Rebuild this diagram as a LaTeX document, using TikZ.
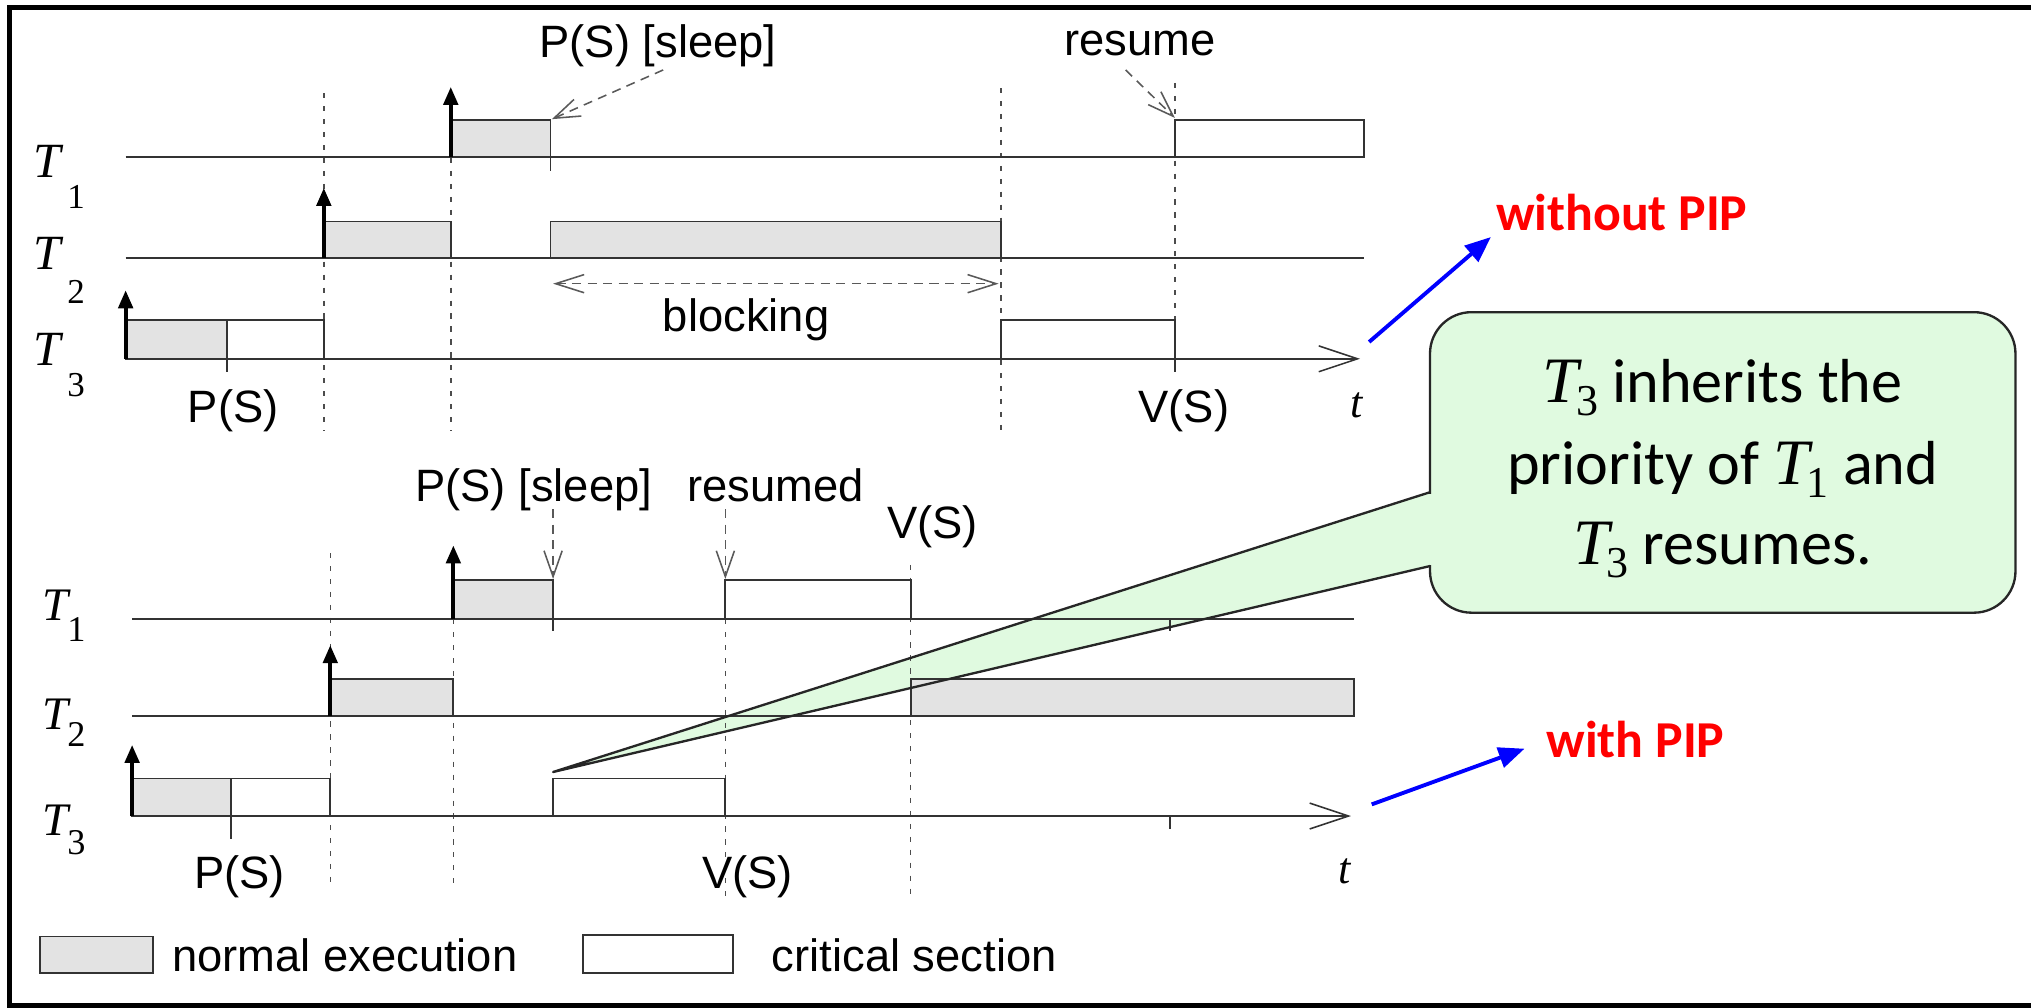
\documentclass[tikz,border=0pt]{standalone}
\usepackage{fontspec}
\setmainfont{Liberation Sans}
\newfontfamily\tfont{Liberation Serif}
\newfontfamily\cfont{Carlito}
\usetikzlibrary{arrows.meta}
\definecolor{callgreen}{RGB}{224,250,224}
% italic T with a lowered index digit: #1 T size, #2 digit size, #3 drop, #4 kern, #5 digit
\newcommand{\Tidx}[5]{{\tfont\itshape\fontsize{#1}{#1}\selectfont T}\kern#4\raisebox{-#3}{\tfont\fontsize{#2}{#2}\selectfont #5}}

\begin{document}
\begin{tikzpicture}[x=0.5pt,y=-0.5pt,
  every node/.style={inner sep=0pt, outer sep=0pt},
  lbl/.style={font=\fontsize{17.5}{20}\selectfont, anchor=base},
  tletter/.style={font=\tfont\itshape\fontsize{19}{20}\selectfont, anchor=base west},
  tdigit/.style={font=\tfont\fontsize{13.5}{15}\selectfont, anchor=base west},
  tvar/.style={font=\tfont\itshape\fontsize{17}{18}\selectfont, anchor=base},
  tline/.style={draw=black!80, line width=0.75pt},
  taxis/.style={tline, -{Straight Barb[length=15pt,width=10pt,line width=0.6pt]}},
  nbox/.style={draw=black!80, line width=0.75pt, fill=gray!22},
  cbox/.style={draw=black!80, line width=0.75pt, fill=white},
  dotv/.style={draw=black!70, line width=0.6pt, dash pattern=on 2pt off 3pt},
  rel/.style={line width=1.6pt, -{Triangle[length=7pt,width=5.5pt]}},
  note/.style={draw=black!65, line width=0.6pt, dash pattern=on 3.5pt off 2.5pt,
    -{Straight Barb[length=10pt,width=7pt,line width=0.6pt]}},
  twoway/.style={note, {Straight Barb[length=11pt,width=7pt,line width=0.6pt]}-{Straight Barb[length=11pt,width=7pt,line width=0.6pt]}},
  pip/.style={font=\cfont\bfseries\fontsize{20}{22}\selectfont, text=red, anchor=base west},
  bluearr/.style={draw=blue, line width=1.5pt, -{Triangle[length=10pt,width=8pt]}},
  calltext/.style={font=\cfont\fontsize{24}{28}\selectfont, anchor=base},
  legendtxt/.style={font=\fontsize{17.5}{20}\selectfont, anchor=base west}
]
\useasboundingbox (0,0) rectangle (1568,778);

% outer frame (open on the right)
\draw[line width=2pt] (1568,6) -- (7.5,6) -- (7.5,776) -- (1568,776);

% ---------------- without PIP ----------------
% dotted time markers
\draw[dotv] (250,72) -- (250,333);
\draw[dotv] (348,122) -- (348,333);
\draw[dotv] (773,68) -- (773,333);
\draw[dotv] (907,64) -- (907,247);

% task lines
\draw[tline] (97,121.5) -- (1053,121.5);
\draw[tline] (97,199) -- (1053,199);
\draw[taxis] (97,277) -- (1050,277);

% execution blocks
\draw[nbox] (348,93) rectangle (425,121.5);
\draw[cbox] (907,93) rectangle (1053,121.5);
\draw[nbox] (250,171) rectangle (348,199);
\draw[nbox] (425,171) rectangle (773,199);
\draw[nbox] (97,247) rectangle (175,277);
\draw[cbox] (175,247) rectangle (250,277);
\draw[cbox] (773,247) rectangle (907,277);

% ticks
\draw[tline] (425,121.5) -- (425,132);
\draw[tline] (175,277) -- (175,287);
\draw[tline] (907,277) -- (907,287);

% releases
\coordinate (ra3) at (97,277);   \coordinate (rb3) at (97,224);
\coordinate (ra2) at (250,199);  \coordinate (rb2) at (250,145);
\coordinate (ra1) at (348,121.5);\coordinate (rb1) at (348,67);
\draw[rel] (ra3) -- (rb3);
\draw[rel] (ra2) -- (rb2);
\draw[rel] (ra1) -- (rb1);

% task names
\node[tletter] (aT1) at (26,137) {T};  \node[tdigit] (aT1i) at (52,161) {1};
\node[tletter] (aT2) at (26,208) {T};  \node[tdigit] (aT2i) at (52,234) {2};
\node[tletter] (aT3) at (26,282) {T};  \node[tdigit] (aT3i) at (52,306) {3};

% annotations
\node[lbl] (asleep) at (508,44) {P(S) [sleep]};
\coordinate (asleepS) at (512,54);
\coordinate (asleepE) at (426,92);
\draw[note] (asleepS) -- (asleepE);
\node[lbl] (aresume) at (880,43) {resume};
\coordinate (aresumeS) at (869,54);
\coordinate (aresumeE) at (907,91);
\draw[note] (aresumeS) -- (aresumeE);
\coordinate (blkL) at (427,219);
\coordinate (blkR) at (771,219);
\draw[twoway] (blkL) -- (blkR);
\node[lbl] (ablk) at (576,256) {blocking};
\node[lbl] (aP) at (180,326) {P(S)};
\node[lbl] (aV) at (914,326) {V(S)};
\node[tvar] (at) at (1047,322) {t};

% ---------------- with PIP ----------------
% callout pointer fill (under the chart)
\coordinate (ptip) at (427,596);
\coordinate (pb1) at (1104,380);
\coordinate (pb2) at (1104,437);
\fill[callgreen] (ptip) -- (pb1) -- (pb2) -- cycle;

\draw[dotv] (255,427) -- (255,685);
\draw[dotv] (350,478) -- (350,687);
\draw[dotv] (560,478) -- (560,693);
\draw[dotv] (703,436) -- (703,693);

\draw[tline] (102,478) -- (1045,478);
\draw[tline] (102,553) -- (1045,553);
\draw[taxis] (102,630) -- (1043,630);

\draw[nbox] (350,448) rectangle (427,478);
\draw[cbox] (560,448) rectangle (703,478);
\draw[nbox] (255,524) rectangle (350,553);
\draw[nbox] (703,524) rectangle (1045,553);
\draw[nbox] (102,601) rectangle (178,630);
\draw[cbox] (178,601) rectangle (255,630);
\draw[cbox] (427,601) rectangle (560,630);

\draw[tline] (427,478) -- (427,487);
\draw[tline] (903,478) -- (903,487);
\draw[tline] (178,630) -- (178,648);
\draw[tline] (903,630) -- (903,640);

\coordinate (rc3) at (102,630);  \coordinate (rd3) at (102,575);
\coordinate (rc2) at (255,553);  \coordinate (rd2) at (255,498);
\coordinate (rc1) at (350,478);  \coordinate (rd1) at (350,421);
\draw[rel] (rc3) -- (rd3);
\draw[rel] (rc2) -- (rd2);
\draw[rel] (rc1) -- (rd1);

\node[tletter, font=\tfont\itshape\fontsize{18}{20}\selectfont] (bT1) at (33,479) {T};
\node[tdigit, font=\tfont\fontsize{14}{15}\selectfont] (bT1i) at (52,495) {1};
\node[tletter, font=\tfont\itshape\fontsize{18}{20}\selectfont] (bT2) at (33,563) {T};
\node[tdigit, font=\tfont\fontsize{14}{15}\selectfont] (bT2i) at (52,576) {2};
\node[tletter, font=\tfont\itshape\fontsize{18}{20}\selectfont] (bT3) at (33,645) {T};
\node[tdigit, font=\tfont\fontsize{14}{15}\selectfont] (bT3i) at (52,660) {3};

\node[lbl] (bsleep) at (412,387.5) {P(S) [sleep]};
\node[lbl] (bresumed) at (599,387.5) {resumed};
\coordinate (bsleepS) at (427,393);
\coordinate (bsleepE) at (427,447);
\coordinate (bresS) at (560,393);
\coordinate (bresE) at (560,447);
\draw[note] (bsleepS) -- (bsleepE);
\draw[note] (bresS) -- (bresE);
\node[lbl] (bVup) at (720,416) {V(S)};
\node[lbl] (bP) at (185,686) {P(S)};
\node[lbl] (bV) at (577,686) {V(S)};
\node[tvar] (bt) at (1038,682) {t};

% ---------------- legend ----------------
\draw[nbox] (31,723) rectangle (118,751);
\node[legendtxt] (lgn) at (133,750) {normal execution};
\draw[cbox] (450,722) rectangle (566,751);
\node[legendtxt] (lgc) at (596,750) {critical section};

% ---------------- side labels ----------------
\node[pip] (wo) at (1155,178) {without PIP};
\node[pip] (wi) at (1194,585) {with PIP};
\coordinate (woS) at (1057,264);
\coordinate (woE) at (1151,183);
\coordinate (wiS) at (1059,621);
\coordinate (wiE) at (1177,578);
\draw[bluearr] (woS) -- (woE);
\draw[bluearr] (wiS) -- (wiE);

% ---------------- callout ----------------
\node[draw=black!85, line width=0.9pt, fill=callgreen, rounded corners=16pt,
      minimum width=226pt, minimum height=116pt] (callout) at (1330,357) {};
\fill[callgreen] (1102,381) rectangle (1107,436);
\draw[black!85, line width=0.9pt, line join=round] (pb1) -- (ptip) -- (pb2);
\node[calltext] (cl1) at (1330,311) {\Tidx{25}{17}{5pt}{-1pt}{3} inherits the};
\node[calltext] (cl2) at (1330,374) {priority of \Tidx{25}{17}{5pt}{-1pt}{1} and};
\node[calltext] (cl3) at (1330,436) {\Tidx{25}{17}{5pt}{-1pt}{3} resumes.};
\end{tikzpicture}
\end{document}
